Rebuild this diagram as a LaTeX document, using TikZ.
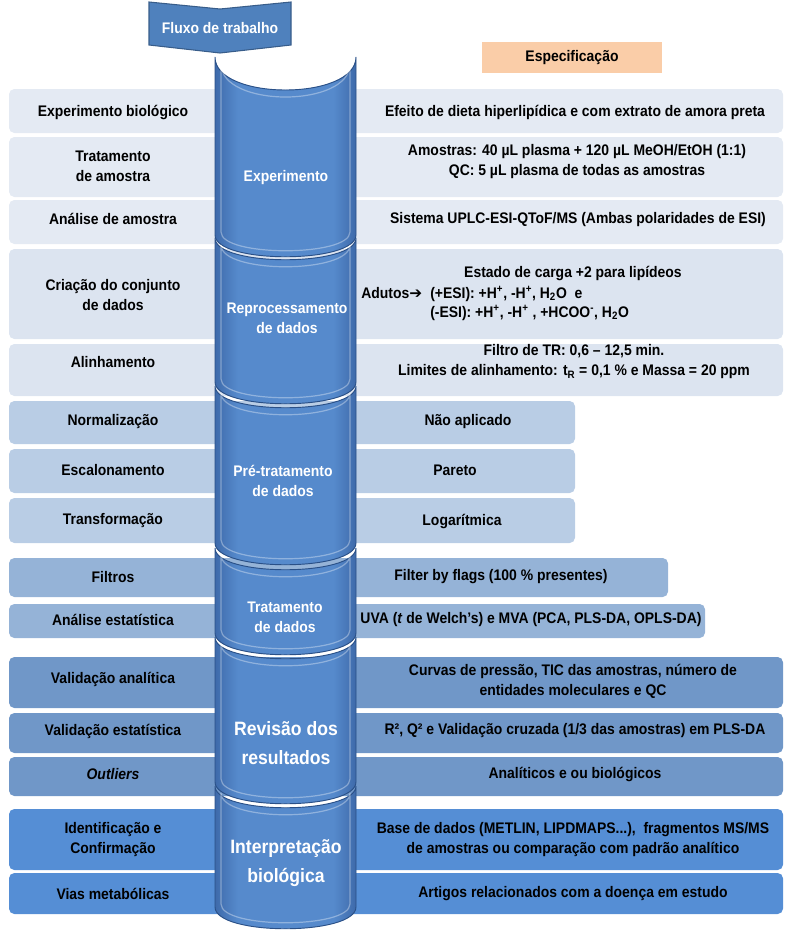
\documentclass[tikz,border=0pt]{standalone}
\usepackage{fontspec}
\setmainfont[FakeStretch=0.91]{Liberation Sans}
\newfontfamily\arrowfont{DejaVu Sans}
\usepackage{tikz}
\definecolor{bandA}{RGB}{228,234,243}
\definecolor{bandB}{RGB}{220,228,240}
\definecolor{bandC}{RGB}{185,205,229}
\definecolor{bandD}{RGB}{149,179,215}
\definecolor{bandE}{RGB}{112,151,200}
\definecolor{bandF}{RGB}{85,142,213}
\definecolor{canmid}{RGB}{86,138,204}
\definecolor{canedge}{RGB}{62,106,170}
\definecolor{canline}{RGB}{42,80,135}
\definecolor{peach}{RGB}{250,205,168}
\pgfdeclarehorizontalshading{canshade}{100bp}{color(0bp)=(canedge); color(25bp)=(canedge); color(33bp)=(canmid); color(67bp)=(canmid); color(75bp)=(canedge); color(100bp)=(canedge)}
\begin{document}
\begin{tikzpicture}[x=0.75pt, y=-0.75pt, every node/.style={font=\bfseries\fontsize{11.5}{15}\selectfont, align=center, inner sep=0pt}, can/.style={shading=canshade, draw=canline, line width=0.7pt}, rim/.style={draw=white, opacity=0.35, line width=0.9pt}, cantxt/.style={text=white}, bigtxt/.style={text=white, font=\bfseries\fontsize{14.5}{22}\selectfont}]
	\useasboundingbox (0,0) rectangle (785,933);
	\foreach \t/\b/\r/\c in {89/133/783/bandA, 137/197/783/bandA, 200/244/783/bandA, 249/339/783/bandB, 344/396/783/bandB, 401/444/575/bandC, 449/493/575/bandC, 498/543/575/bandC, 558/597/668/bandD, 604/638/705/bandD, 657/708/783/bandE, 713/753/783/bandE, 757/796/783/bandE, 809/870/783/bandF, 873/914/783/bandF} {\fill[\c, rounded corners=4pt] (9,\t) rectangle (\r,\b);}
	\foreach \t/\k/\b in {57/44/235, 238/29/382, 386/29/543, 548/29/633, 637/29/782, 786/29/907} {
		\shade[can] (215,\t) -- (215,\b) .. controls (215,\b+29) and (356,\b+29) .. (356,\b) -- (356,\t) .. controls (356,\t+\k) and (215,\t+\k) .. cycle;
		\draw[rim] (221,\t+7) -- (221,\b-3) .. controls (221,\b+22) and (350,\b+22) .. (350,\b-3) -- (350,\t+7) .. controls (350,\t+7+\k) and (221,\t+7+\k) .. cycle;
	}
	\draw[fill={rgb,255:red,79;green,129;blue,189}, draw={rgb,255:red,56;green,93;blue,138}, line width=0.8pt] (149,2) -- (220,9) -- (291,2) -- (291,45) -- (220,53) -- (149,45) -- cycle;
	\node[text=white] (flow) at (220,28) {Fluxo de trabalho};
	\fill[peach] (482,42) rectangle (662,73);
	\node (spec) at (572,58) {Especificação};
	\node (l1) at (113,112) {Experimento biológico};
	\node (l2) at (113,166) {Tratamento\\de amostra};
	\node (l3) at (113,219) {Análise de amostra};
	\node (l4) at (113,295) {Criação do conjunto\\de dados};
	\node (l5) at (113,362) {Alinhamento};
	\node (l6) at (113,422) {Normalização};
	\node (l7) at (113,470) {Escalonamento};
	\node (l8) at (113,521) {Transformação};
	\node (l9) at (113,577) {Filtros};
	\node (l10) at (113,620) {Análise estatística};
	\node (l11) at (113,679) {Validação analítica};
	\node (l12) at (113,731) {Validação estatística};
	\node (l13) at (113,774) {\textit{Outliers}};
	\node (l14) at (113,840) {Identificação e\\Confirmação};
	\node (l15) at (113,894) {Vias metabólicas};
	\node (r1) at (575,112) {Efeito de dieta hiperlipídica e com extrato de amora preta};
	\node (r2) at (577,162) {Amostras: 40 µL plasma + 120 µL MeOH/EtOH (1:1)\\QC: 5 µL plasma de todas as amostras};
	\node (r3) at (578,220) {Sistema UPLC-ESI-QToF/MS (Ambas polaridades de ESI)};
	\node[anchor=base] (r4a) at (573,277) {Estado de carga +2 para lipídeos};
	\node[anchor=base west] (r4b) at (361,298) {Adutos{\arrowfont\mdseries ➔}};
	\node[anchor=base west] (r4c) at (430,298) {(+ESI): +H\textsuperscript{+}, -H\textsuperscript{+}, H\textsubscript{2}O\ \ e};
	\node[anchor=base west] (r4d) at (430,317) {(-ESI): +H\textsuperscript{+}, -H\textsuperscript{+} , +HCOO\textsuperscript{-}, H\textsubscript{2}O};
	\node (r5) at (574,362) {Filtro de TR: 0,6 -- 12,5 min.\\Limites de alinhamento: t\textsubscript{R} = 0,1 \% e Massa = 20 ppm};
	\node (r6) at (468,422) {Não aplicado};
	\node (r7) at (455,470) {Pareto};
	\node (r8) at (462,521) {Logarítmica};
	\node (r9) at (501,577) {Filter by flags (100 \% presentes)};
	\node (r10) at (531,620) {UVA (\textit{t} de Welch’s) e MVA (PCA, PLS-DA, OPLS-DA)};
	\node (r11) at (573,681) {Curvas de pressão, TIC das amostras, número de\\entidades moleculares e QC};
	\node (r12) at (575,731) {R², Q² e Validação cruzada (1/3 das amostras) em PLS-DA};
	\node (r13) at (575,774) {Analíticos e ou biológicos};
	\node (r14) at (573,840) {Base de dados (METLIN, LIPDMAPS...),\ \ fragmentos MS/MS\\de amostras ou comparação com padrão analítico};
	\node (r15) at (573,894) {Artigos relacionados com a doença em estudo};
	\node[cantxt] (c1) at (286,178) {Experimento};
	\node[cantxt] (c2) at (287,318) {Reprocessamento\\de dados};
	\node[cantxt] (c3) at (283,481) {Pré-tratamento\\de dados};
	\node[cantxt] (c4) at (285,617) {Tratamento\\de dados};
	\node[bigtxt] (c5) at (286,743) {Revisão dos\\resultados};
	\node[bigtxt] (c6) at (286,863) {Interpretação\\biológica};
\end{tikzpicture}
\end{document}
